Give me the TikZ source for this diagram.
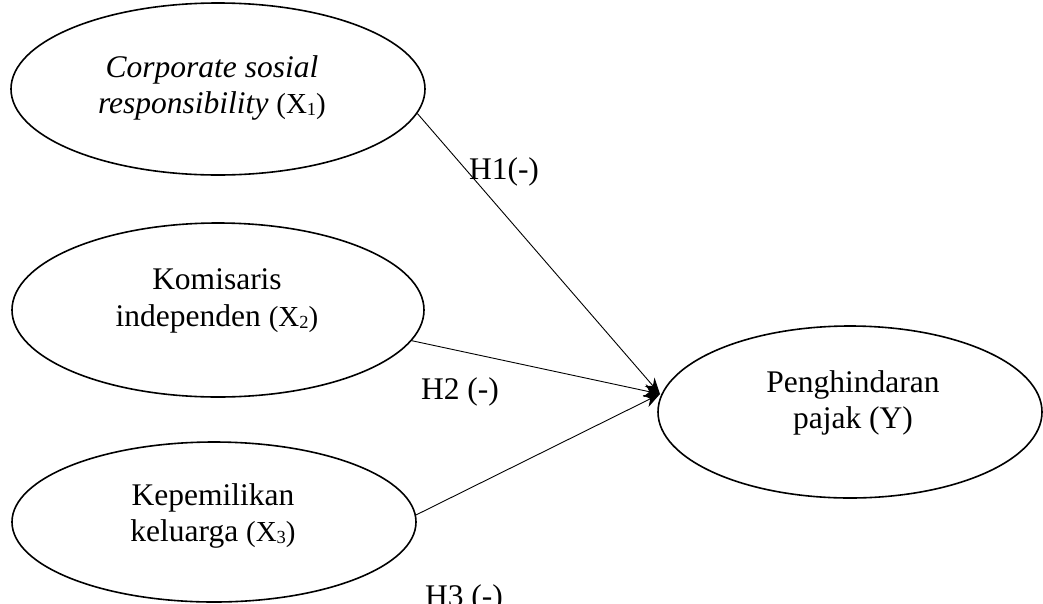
\documentclass[tikz,border=0pt]{standalone}
\usepackage{fontspec}
\setmainfont{Liberation Serif}
\usetikzlibrary{shapes.geometric,arrows.meta}
\newcommand\varx[1]{{\fontsize{29}{29}\selectfont(X\raisebox{-2pt}{\fontsize{18.5}{18.5}\selectfont #1})}}
\tikzset{
  oval/.style={draw=black, line width=1.6pt, ellipse, inner sep=0pt},
  lbl/.style={align=center, inner sep=0pt, font=\fontsize{31.5}{36.5}\selectfont},
  hyp/.style={inner sep=0pt, font=\fontsize{31.5}{36.5}\selectfont},
  link/.style={draw=black, line width=0.9pt, -{Stealth[length=16pt,width=13pt]}}
}
\begin{document}
\begin{tikzpicture}[x=1pt,y=-1pt]
\useasboundingbox (0,0) rectangle (1043,603);
\fill[white] (0,0) rectangle (1043,603);
% ellipses
\node[oval, minimum width=414pt, minimum height=172pt] (e1) at (218,89) {};
\node[oval, minimum width=412pt, minimum height=174pt] (e2) at (218,310) {};
\node[oval, minimum width=404pt, minimum height=160pt] (e3) at (214,522) {};
\node[oval, minimum width=384pt, minimum height=172pt] (e4) at (850,412) {};
% texts
\node[lbl] (t1) at (212,88) {\textit{Corporate sosial}\\\textit{responsibility} \varx{1}};
\node[lbl] (t2) at (217,301) {Komisaris\\independen \varx{2}};
\node[lbl] (t3) at (213,516) {Kepemilikan\\keluarga \varx{3}};
\node[lbl] (t4) at (853,403) {Penghindaran\\pajak (Y)};
% connectors
\coordinate (tip) at (660,394);
\draw[link] (e1.-7) -- (tip);
\draw[link] (e2.-9.4) -- (tip);
\draw[link] (e3.2.8) -- (tip);
% hypothesis labels
\node[hyp] (h1) at (504,172) {H1(-)};
\node[hyp] (h2) at (460,392) {H2 (-)};
\node[hyp, anchor=base] (h3) at (464,606) {H3 (-)};
\end{tikzpicture}
\end{document}
